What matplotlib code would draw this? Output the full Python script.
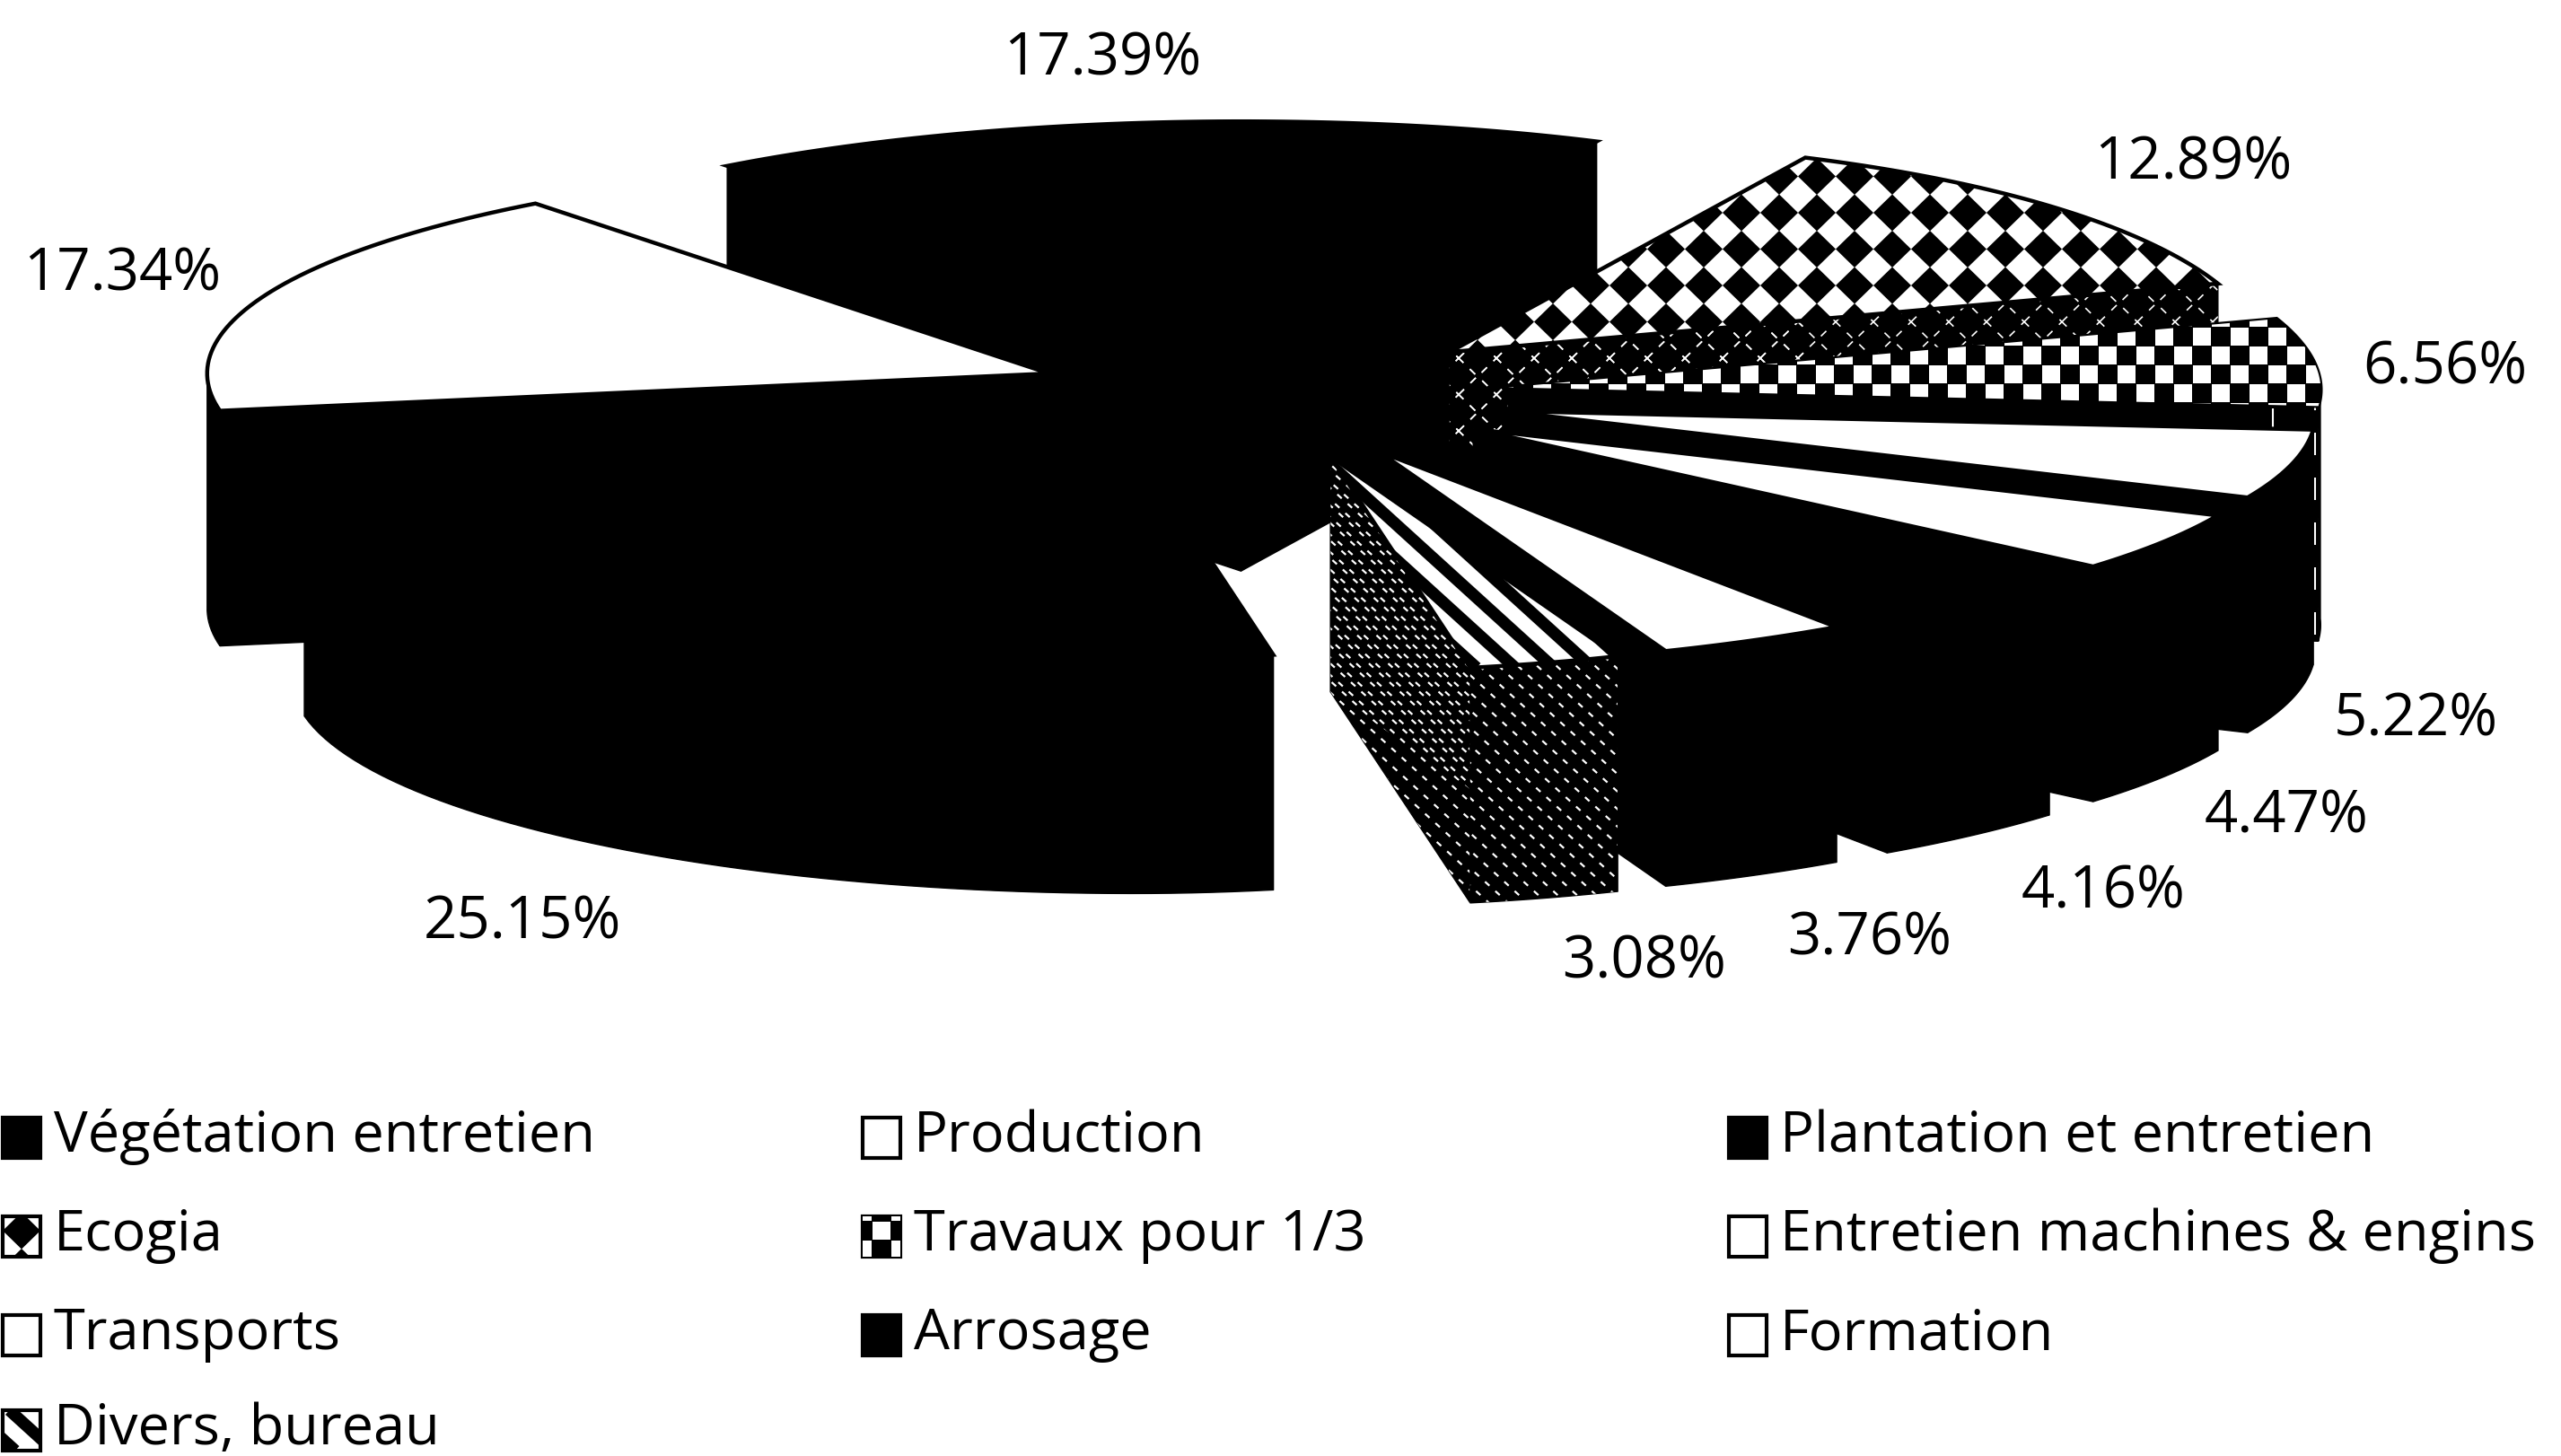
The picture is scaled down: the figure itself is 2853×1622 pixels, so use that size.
import numpy as np
import matplotlib
matplotlib.use("Agg")
import matplotlib.pyplot as plt
from matplotlib.patches import Polygon
from matplotlib.collections import PolyCollection, LineCollection

# Slice data, clockwise from the first slice angle
slice_names = ["Plantation et entretien", "Ecogia", "Travaux pour 1/3", "Entretien machines & engins",
               "Transports", "Arrosage", "Formation", "Divers, bureau", "Végétation entretien", "Production"]
slice_values = [17.39, 12.89, 6.56, 5.22, 4.47, 4.16, 3.76, 3.08, 25.15, 17.34]
slice_styles = ["black", "diamond", "check", "white", "white", "black", "white", "stripe", "black", "white"]

# Legend reads column by column
legend_columns = [["Végétation entretien", "Ecogia", "Transports", "Divers, bureau"],
                  ["Production", "Travaux pour 1/3", "Arrosage"],
                  ["Plantation et entretien", "Entretien machines & engins", "Formation"]]

# Label centres in pixels, same order as the slices
label_x = [1228, 2443, 2724, 2691, 2547, 2343, 2083, 1832, 582, 136]
label_y = [66, 182, 410, 803, 910, 994, 1047, 1072, 1029, 306]

# Pie geometry, pixels
CX, CY = 1411, 440
A_LEFT, A_RIGHT, A_SKEW, A_BULGE, B = 938, 905, 70, 40, 239
EXPLODE_LEFT, EXPLODE_RIGHT = 0.277, 0.3
DEPTH = 262
START_ANGLE = 322.4

plt.rcParams['font.family'] = ['Open Sans', 'DejaVu Sans']
fig = plt.figure(figsize=(28.53, 16.22), dpi=100)
ax = fig.add_axes([0, 0, 1, 1])
ax.set_xlim(0, 2853)
ax.set_ylim(1622, 0)
ax.axis('off')


def ellipse(theta):
    # clockwise from the top; the scanned right half is not a clean ellipse
    theta = np.radians(theta)
    s, c = np.sin(theta), np.cos(theta)
    a = np.where(s < 0, A_LEFT, A_RIGHT + A_SKEW * c - A_BULGE * np.sin(2 * theta))
    return a * s, -B * c


def lattice(x0, y0, x1, y1, anchor, px, py):
    # grid points covering a box, lined up on the anchor point
    xs = np.arange(anchor[0] + np.floor((x0 - anchor[0]) / px) * px, x1 + px, px)
    ys = np.arange(anchor[1] + np.floor((y0 - anchor[1]) / py) * py, y1 + py, py)
    return xs, ys


def fill_pattern(patch, style, dark=False, anchor=None):
    # pattern marks clipped to the patch they sit in
    x0, y0 = patch.get_xy().min(axis=0)
    x1, y1 = patch.get_xy().max(axis=0)
    z = patch.get_zorder() + 0.01
    items = None
    if style == "diamond":
        xs, ys = lattice(x0, y0, x1, y1, anchor or (1940, 237), 42, 40.5)
        polys = [[(x - 21, y), (x, y - 20.5), (x + 21, y), (x, y + 20.5), (x - 21, y)] for x in xs for y in ys]
        if dark:
            items = LineCollection(polys, colors='white', linewidths=1.2, linestyles=(0, (5, 6)), zorder=z)
        else:
            items = PolyCollection(polys, facecolors='black', edgecolors='none', zorder=z)
    elif style == "check" and not dark:
        xs, ys = lattice(x0, y0, x1, y1, anchor or (2348, 396), 21, 21)
        xa, ya = anchor or (2348, 396)
        polys = []
        for x in xs:
            for y in ys:
                if (round((x - xa) / 21) + round((y - ya) / 21)) % 2 == 0:
                    polys.append([(x - 10, y - 10), (x + 10, y - 10), (x + 10, y + 10), (x - 10, y + 10)])
        items = PolyCollection(polys, facecolors='white', edgecolors='none', zorder=z)
    elif style == "check":
        # only a broken line shows on the dark side of this slice
        items = LineCollection([[(x1 - 4, y0), (x1 - 4, y1)]], colors='white', linewidths=1.5,
                               linestyles=(0, (12, 12)), zorder=z)
    elif style == "stripe":
        h = y1 - y0
        if dark:
            segs = [[(x, y0), (x + h * 1.1, y1)] for x in np.arange(x1 - h * 1.1 - (x1 - x0) - 22, x1 + 22, 21.5)]
            items = LineCollection(segs, colors='white', linewidths=1.6, linestyles=(0, (3, 4)), zorder=z)
        else:
            segs = [[(x - h * 1.1, y0), (x, y1)] for x in np.arange(x1 - 28 - 43 * 8, x1 + 43, 43)]
            items = LineCollection(segs, colors='black', linewidths=9.6, zorder=z)
    if items is not None:
        ax.add_collection(items)
        items.set_clip_path(patch)


def draw_patch(points, style, z, dark=False, lw=1.0):
    face = 'black' if (dark or style in ("black", "check")) else 'white'
    patch = Polygon(points, closed=True, facecolor=face, edgecolor='black', linewidth=lw, zorder=z)
    ax.add_patch(patch)
    fill_pattern(patch, style, dark)
    return patch


# Angles come from the values
spans = np.array(slice_values) / sum(slice_values) * 360
starts = START_ANGLE + np.concatenate([[0], np.cumsum(spans)[:-1]])
mids = starts + spans / 2

# Back slices first
order = np.argsort(-np.cos(np.radians(mids)))
for z, i in enumerate(order):
    ox, oy = ellipse(mids[i])
    explode = EXPLODE_LEFT if ox < 0 else EXPLODE_RIGHT
    ax0, ay0 = CX + explode * ox, CY + explode * oy
    thetas = np.linspace(starts[i], starts[i] + spans[i], 60)
    dx, dy = ellipse(thetas)
    rim_x, rim_y = ax0 + dx, ay0 + dy
    style = slice_styles[i]
    base = z * 4 + 2

    # radial side walls
    for k in (0, -1):
        draw_patch([(ax0, ay0), (rim_x[k], rim_y[k]), (rim_x[k], rim_y[k] + DEPTH), (ax0, ay0 + DEPTH)],
                   style, base, dark=True)

    # outer wall, only the part facing the viewer
    front = np.cos(np.radians(thetas)) < 0.02
    if front.any():
        wall = list(zip(rim_x[front], rim_y[front])) + list(zip(rim_x[front][::-1], rim_y[front][::-1] + DEPTH))
        draw_patch(wall, style, base + 1, dark=True)

    # top face
    top = [(ax0, ay0)] + list(zip(rim_x, rim_y))
    draw_patch(top, style, base + 2, lw=3.2)

# Percent labels
for i, v in enumerate(slice_values):
    ax.text(label_x[i], label_y[i], f"{v:.2f}%", fontsize=47, ha='center', va='center', zorder=100)

# Legend
col_x = [0, 958, 1923]
row_y = [1267, 1377, 1487, 1593]
for c, names in enumerate(legend_columns):
    for r, name in enumerate(names):
        style = slice_styles[slice_names.index(name)]
        face = 'black' if style in ("black", "check") else 'white'
        x, y = col_x[c], row_y[r]
        box = Polygon([(x + 3, y - 22), (x + 45, y - 22), (x + 45, y + 23), (x + 3, y + 23)], closed=True,
                      facecolor=face, edgecolor='black', linewidth=3, zorder=100)
        ax.add_patch(box)
        fill_pattern(box, style, anchor=(x + 24, y - 6))
        ax.text(x + 60, y + 16, name, fontsize=45.5, ha='left', va='baseline', zorder=100)

fig.savefig("out.png", dpi=100, facecolor='white')
